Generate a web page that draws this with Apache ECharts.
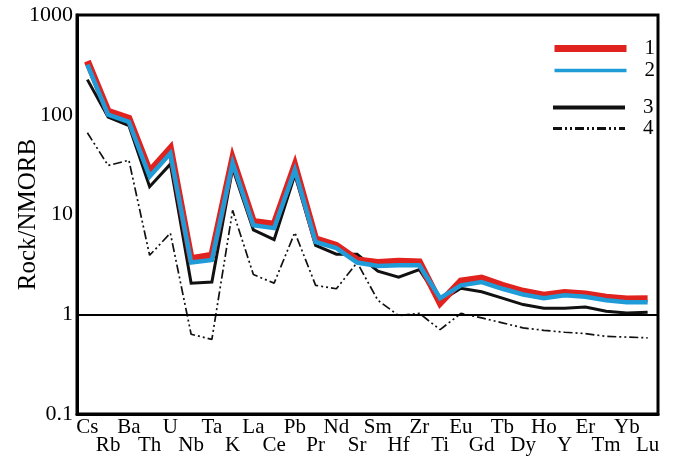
<!DOCTYPE html>
<html>
<head>
<meta charset="utf-8">
<script src="https://cdn.jsdelivr.net/npm/echarts@6/dist/echarts.min.js"></script>
<style>html,body{margin:0;padding:0;background:#fff}#c{width:681px;height:456px}</style>
</head>
<body>
<div id="c"></div>
<script>
const categories = ['Cs','Rb','Ba','Th','U','Nb','Ta','K','La','Ce','Pb','Pr','Nd','Sr','Sm','Hf','Zr','Ti','Eu','Gd','Tb','Dy','Ho','Y','Er','Tm','Yb','Lu'];
const seriesNames = ['1','2','3','4'];
const s1 = [345,108,92,27,46,3.6,3.9,36,8.5,8.0,31,5.7,4.9,3.5,3.3,3.4,3.35,1.3,2.15,2.3,1.95,1.7,1.55,1.65,1.6,1.48,1.42,1.43];
const s2 = [318,100,85,24,41,3.3,3.5,33,7.8,7.3,28,5.3,4.6,3.3,3.05,3.1,3.1,1.45,1.95,2.1,1.8,1.58,1.45,1.55,1.5,1.38,1.32,1.32];
const s3 = [225,95,78,19,32,2.05,2.1,29,7.0,5.6,25,4.9,4.0,4.0,2.7,2.35,2.8,1.35,1.82,1.68,1.45,1.25,1.15,1.15,1.18,1.07,1.03,1.05];
const s4 = [66,31,35,3.9,6.5,0.63,0.56,11,2.5,2.05,6.6,1.95,1.8,3.3,1.38,0.97,1.02,0.7,1.02,0.92,0.82,0.73,0.69,0.66,0.64,0.6,0.59,0.58];
const refLine = 1;

const FONT = 'Liberation Serif';
const RED = '#e0231e', BLUE = '#1f9bd7', BLACK = '#111';
const DASH = [9,3,2,3,2,3];
const chart = echarts.init(document.getElementById('c'), null, {renderer:'canvas'});
const lineBase = {type:'line', symbol:'none', showSymbol:false, animation:false, silent:true};
const legendText = {fontFamily:FONT, fontSize:21, color:'#000', lineHeight:16, padding:[0,0,0,13]};
chart.setOption({
  animation:false,
  grid:{left:77, right:23, top:15, bottom:42, outerBoundsMode:'none', containLabel:false,
        show:true, borderColor:'#000', borderWidth:3, backgroundColor:'transparent'},
  legend:[
    {data:[{name:seriesNames[0], lineStyle:{width:7, color:RED}}, {name:seriesNames[1], lineStyle:{width:3.5, color:BLUE}}],
     orient:'vertical', left:551, top:38, padding:0, itemWidth:72, itemHeight:16, itemGap:1,
     itemStyle:{opacity:0}, textStyle:legendText, selectedMode:false},
    {data:[{name:seriesNames[2], lineStyle:{width:4, color:BLACK}}, {name:seriesNames[3], lineStyle:{width:3, color:BLACK, type:DASH}}],
     orient:'vertical', left:551, top:97, padding:0, itemWidth:72, itemHeight:16, itemGap:0,
     itemStyle:{opacity:0}, textStyle:legendText, selectedMode:false}
  ],
  xAxis:{type:'category', data:categories, boundaryGap:true,
    axisLine:{lineStyle:{color:'#000', width:3}},
    axisTick:{inside:true, length:6, lineStyle:{color:'#000', width:1.2}},
    axisLabel:{fontFamily:FONT, fontSize:21, color:'#000', margin:4, lineHeight:18, interval:0,
      formatter:(v, i) => (i % 2 === 1 ? '\n' + v : v)},
    splitLine:{show:false}},
  yAxis:{type:'log', min:0.1, max:1000, logBase:10,
    name:'Rock/NMORB', nameLocation:'middle', nameGap:36, nameMoveOverlap:false,
    nameTextStyle:{fontFamily:FONT, fontSize:25, color:'#000'},
    axisLine:{show:true, lineStyle:{color:'#000', width:3}},
    axisTick:{inside:true, length:10, lineStyle:{color:'#000', width:1.2}},
    minorTick:{show:false},
    axisLabel:{fontFamily:FONT, fontSize:22, color:'#000', margin:4,
      formatter:v => String(v)},
    splitLine:{show:false}},
  series:[
    Object.assign({}, lineBase, {name:seriesNames[3], data:s4, lineStyle:{color:BLACK, width:1.7, type:DASH}, itemStyle:{color:BLACK},
      markLine:{silent:true, symbol:['none','none'], label:{show:false}, lineStyle:{color:'#000', width:2, type:'solid'}, data:[{yAxis:refLine}]}}),
    Object.assign({}, lineBase, {name:seriesNames[2], data:s3, lineStyle:{color:BLACK, width:3, join:'miter'}, itemStyle:{color:BLACK}}),
    Object.assign({}, lineBase, {name:seriesNames[0], data:s1, lineStyle:{color:RED, width:7, join:'miter', miterLimit:10}, itemStyle:{color:RED}}),
    Object.assign({}, lineBase, {name:seriesNames[1], data:s2, lineStyle:{color:BLUE, width:4.5, join:'miter', miterLimit:10}, itemStyle:{color:BLUE}})
  ]
});
</script>
</body>
</html>
